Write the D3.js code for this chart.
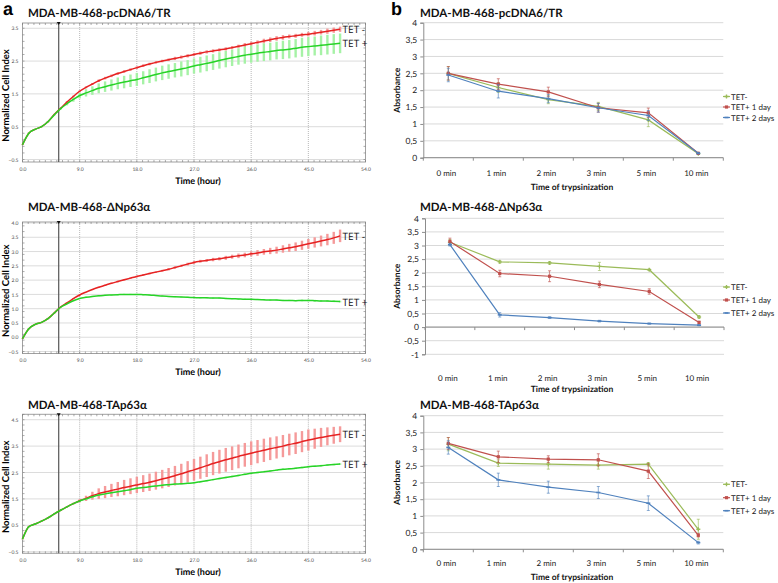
<!DOCTYPE html>
<html><head><meta charset="utf-8">
<script src="https://cdn.jsdelivr.net/npm/d3@7"></script>
<style>body{margin:0;background:#fff}svg{display:block}text{text-rendering:geometricPrecision}</style>
</head><body><svg id="c" width="778" height="583"></svg>
<script>
// ---------- DATA ----------
const hours=[0,1,2,3,4,5,6,7,8,9,10,11,12,13,14,15,16,17,18,19,20,21,22,23,24,25,26,27,28,29,30,31,32,33,34,35,36,37,38,39,40,41,42,43,44,45,46,47,48,49,50];
const xTickVals=[0,9,18,27,36,45,54];
const normalizationHour=5.7;

const a1TetMinus=[-0.05,0.30,0.42,0.50,0.65,0.87,1.06,1.25,1.42,1.58,1.70,1.80,1.90,1.98,2.05,2.12,2.18,2.24,2.30,2.36,2.41,2.46,2.50,2.54,2.58,2.62,2.66,2.70,2.74,2.78,2.81,2.84,2.87,2.91,2.95,2.99,3.03,3.07,3.11,3.15,3.19,3.22,3.25,3.27,3.30,3.32,3.35,3.38,3.41,3.44,3.47];
const a1TetMinusErr=[0.01,0.02,0.02,0.02,0.02,0.02,0.02,0.03,0.03,0.03,0.03,0.03,0.04,0.04,0.04,0.04,0.04,0.04,0.04,0.04,0.04,0.04,0.04,0.04,0.05,0.05,0.05,0.05,0.05,0.05,0.05,0.05,0.05,0.05,0.05,0.06,0.06,0.06,0.07,0.07,0.07,0.07,0.06,0.06,0.06,0.07,0.07,0.07,0.08,0.08,0.08];
const a1TetPlus=[-0.05,0.30,0.42,0.50,0.65,0.86,1.05,1.20,1.33,1.45,1.53,1.60,1.67,1.72,1.77,1.82,1.86,1.90,1.94,1.99,2.04,2.09,2.14,2.18,2.22,2.26,2.30,2.35,2.39,2.43,2.47,2.52,2.56,2.60,2.64,2.68,2.71,2.74,2.77,2.79,2.82,2.84,2.86,2.89,2.92,2.94,2.96,2.98,3.00,3.02,3.04];
const a1TetPlusErr=[0.01,0.02,0.02,0.02,0.02,0.02,0.03,0.05,0.07,0.09,0.11,0.13,0.15,0.16,0.17,0.18,0.19,0.19,0.20,0.20,0.21,0.21,0.22,0.22,0.22,0.23,0.23,0.23,0.24,0.24,0.24,0.25,0.25,0.25,0.25,0.26,0.26,0.26,0.27,0.27,0.27,0.28,0.28,0.28,0.29,0.29,0.29,0.30,0.30,0.30,0.30];

const a2TetMinus=[-0.05,0.30,0.45,0.52,0.65,0.85,1.06,1.20,1.35,1.48,1.58,1.67,1.75,1.82,1.89,1.95,2.01,2.07,2.13,2.18,2.23,2.28,2.33,2.38,2.44,2.50,2.56,2.62,2.66,2.69,2.72,2.75,2.78,2.82,2.85,2.88,2.92,2.95,2.99,3.02,3.05,3.09,3.13,3.17,3.22,3.27,3.32,3.37,3.42,3.48,3.55];
const a2TetMinusErr=[0.01,0.02,0.02,0.02,0.02,0.02,0.02,0.02,0.02,0.02,0.02,0.02,0.02,0.02,0.02,0.03,0.03,0.03,0.03,0.03,0.03,0.03,0.03,0.04,0.04,0.04,0.05,0.05,0.05,0.05,0.06,0.06,0.07,0.07,0.08,0.08,0.09,0.10,0.10,0.11,0.12,0.13,0.14,0.15,0.16,0.17,0.18,0.19,0.20,0.21,0.22];
const a2TetPlus=[-0.05,0.30,0.45,0.52,0.65,0.85,1.05,1.17,1.28,1.36,1.40,1.43,1.45,1.47,1.48,1.49,1.50,1.50,1.50,1.49,1.48,1.46,1.44,1.43,1.42,1.41,1.40,1.39,1.38,1.38,1.37,1.37,1.36,1.35,1.34,1.33,1.33,1.32,1.31,1.30,1.30,1.29,1.29,1.28,1.29,1.29,1.28,1.27,1.27,1.26,1.25];
const a2TetPlusErr=[0.01,0.02,0.02,0.02,0.02,0.02,0.02,0.02,0.02,0.02,0.02,0.02,0.02,0.02,0.02,0.02,0.02,0.02,0.02,0.02,0.02,0.02,0.02,0.02,0.02,0.02,0.02,0.02,0.02,0.02,0.02,0.02,0.02,0.02,0.02,0.02,0.02,0.02,0.02,0.02,0.02,0.02,0.02,0.02,0.03,0.03,0.03,0.03,0.03,0.03,0.03];

const a3TetMinus=[-0.02,0.45,0.55,0.66,0.78,0.93,1.07,1.20,1.32,1.43,1.52,1.62,1.70,1.76,1.82,1.87,1.93,1.98,2.03,2.08,2.13,2.19,2.25,2.31,2.38,2.45,2.53,2.60,2.68,2.76,2.84,2.91,2.98,3.04,3.11,3.17,3.23,3.29,3.34,3.40,3.45,3.50,3.56,3.61,3.67,3.73,3.78,3.83,3.87,3.91,3.95];
const a3TetMinusErr=[0.01,0.02,0.02,0.02,0.02,0.02,0.02,0.02,0.03,0.06,0.10,0.15,0.20,0.23,0.25,0.27,0.29,0.30,0.31,0.32,0.33,0.34,0.35,0.36,0.37,0.38,0.40,0.41,0.42,0.43,0.44,0.45,0.45,0.45,0.45,0.45,0.45,0.44,0.44,0.43,0.42,0.42,0.41,0.41,0.40,0.40,0.38,0.36,0.34,0.32,0.30];
const a3TetPlus=[-0.02,0.45,0.55,0.66,0.78,0.93,1.07,1.20,1.32,1.42,1.50,1.58,1.65,1.69,1.73,1.77,1.81,1.85,1.90,1.93,1.96,1.99,2.02,2.04,2.06,2.07,2.09,2.11,2.15,2.19,2.23,2.27,2.31,2.35,2.39,2.43,2.47,2.50,2.53,2.56,2.59,2.62,2.64,2.66,2.69,2.72,2.74,2.76,2.78,2.80,2.82];
const a3TetPlusErr=[0.01,0.02,0.02,0.02,0.02,0.02,0.02,0.02,0.03,0.03,0.03,0.03,0.03,0.03,0.03,0.03,0.03,0.03,0.03,0.03,0.03,0.03,0.03,0.03,0.03,0.03,0.03,0.03,0.03,0.03,0.03,0.03,0.03,0.03,0.03,0.03,0.03,0.03,0.03,0.03,0.03,0.03,0.03,0.03,0.03,0.03,0.03,0.03,0.03,0.03,0.03];

const trypsinCategories=["0 min","1 min","2 min","3 min","5 min","10 min"];
const legendNames=["TET-","TET+ 1 day","TET+ 2 days"];

const b1TetMinus=[2.50,2.08,1.72,1.52,1.12,0.12];
const b1TetMinusErr=[0.20,0.15,0.12,0.12,0.20,0.02];
const b1TetPlus1d=[2.50,2.18,1.95,1.48,1.33,0.13];
const b1TetPlus1dErr=[0.20,0.16,0.14,0.13,0.14,0.02];
const b1TetPlus2d=[2.45,1.97,1.75,1.48,1.25,0.13];
const b1TetPlus2dErr=[0.20,0.20,0.12,0.13,0.15,0.02];

const b2TetMinus=[3.12,2.40,2.36,2.23,2.11,0.37];
const b2TetMinusErr=[0.10,0.05,0.05,0.15,0.03,0.05];
const b2TetPlus1d=[3.15,1.97,1.87,1.57,1.31,0.17];
const b2TetPlus1dErr=[0.12,0.12,0.20,0.12,0.10,0.05];
const b2TetPlus2d=[3.03,0.45,0.35,0.22,0.13,0.07];
const b2TetPlus2dErr=[0.05,0.08,0.03,0.03,0.02,0.02];

const b3TetMinus=[3.15,2.58,2.55,2.52,2.55,0.60];
const b3TetMinusErr=[0.20,0.10,0.15,0.12,0.05,0.30];
const b3TetPlus1d=[3.17,2.77,2.70,2.68,2.34,0.42];
const b3TetPlus1dErr=[0.18,0.17,0.10,0.18,0.22,0.05];
const b3TetPlus2d=[3.05,2.08,1.86,1.70,1.38,0.20];
const b3TetPlus2dErr=[0.20,0.20,0.18,0.18,0.22,0.04];

// ---------- DRAW ----------
const svg=d3.select('#c');
const FONT='Lato, "Open Sans", Arial, sans-serif';
const RED='#e62222', GREEN='#27d327', RED_E='#f59a9a', GREEN_E='#a6f2a6';

svg.append('text').attr('x',3).attr('y',15).attr('font-family','Arial, Liberation Sans, sans-serif').attr('font-weight','bold').attr('font-size',18).text('a');
svg.append('text').attr('x',391).attr('y',15).attr('font-family','Arial, Liberation Sans, sans-serif').attr('font-weight','bold').attr('font-size',18).text('b');

function drawA(cfg){
  const g=svg.append('g');
  const x=d3.scaleLinear().domain([0,54]).range([22.5,365.5]);
  const y=d3.scaleLinear().domain(cfg.yDomain).range([cfg.y1,cfg.y0]);
  const [x0,x1]=x.range();
  g.append('text').attr('x',28).attr('y',cfg.titleY).attr('font-family',FONT).attr('font-weight','bold').attr('font-size',11.5).attr('fill','#111').text(cfg.title);
  g.append('rect').attr('x',x0).attr('y',cfg.y0).attr('width',x1-x0).attr('height',cfg.y1-cfg.y0).attr('fill','#fff').attr('stroke','#a0a0a0').attr('stroke-width',1);
  g.selectAll('.gx').data(xTickVals.slice(1,-1)).join('line').attr('x1',d=>x(d)).attr('x2',d=>x(d)).attr('y1',cfg.y0).attr('y2',cfg.y1).attr('stroke','#b8b8b8').attr('stroke-dasharray','1,1');
  g.selectAll('.gy').data(cfg.yTicks).join('line').attr('y1',d=>y(d)).attr('y2',d=>y(d)).attr('x1',x0).attr('x2',x1).attr('stroke','#b8b8b8').attr('stroke-dasharray','1,1');
  const mx=d3.range(0,54.01,0.9);
  g.selectAll('.mt').data(mx).join('line').attr('x1',d=>x(d)).attr('x2',d=>x(d)).attr('y1',cfg.y0).attr('y2',cfg.y0+2).attr('stroke','#777').attr('stroke-width',0.6);
  g.selectAll('.mb').data(mx).join('line').attr('x1',d=>x(d)).attr('x2',d=>x(d)).attr('y1',cfg.y1).attr('y2',cfg.y1-2).attr('stroke','#777').attr('stroke-width',0.6);
  const my=d3.range(cfg.yTicks[0],cfg.yDomain[1],0.2);
  g.selectAll('.ml').data(my).join('line').attr('y1',d=>y(d)).attr('y2',d=>y(d)).attr('x1',x0).attr('x2',x0+2).attr('stroke','#777').attr('stroke-width',0.6);
  g.selectAll('.mr').data(my).join('line').attr('y1',d=>y(d)).attr('y2',d=>y(d)).attr('x1',x1).attr('x2',x1-2).attr('stroke','#777').attr('stroke-width',0.6);
  const ax=g.append('g').attr('transform',`translate(0,${cfg.y1+2})`).call(d3.axisBottom(x).tickValues(xTickVals).tickFormat(d3.format('.1f')).tickSize(0));
  ax.select('.domain').remove();
  ax.selectAll('text').attr('font-size',5).attr('fill','#444').attr('font-family',FONT);
  const ay=g.append('g').attr('transform',`translate(${x0-1},0)`).call(d3.axisLeft(y).tickValues(cfg.yTicks).tickFormat(d3.format('.1f')).tickSize(0));
  ay.select('.domain').remove();
  ay.selectAll('text').attr('font-size',5).attr('fill','#444').attr('font-family',FONT);
  g.append('text').attr('x',198).attr('y',cfg.y1+18).attr('text-anchor','middle').attr('dominant-baseline','central').attr('font-family',FONT).attr('font-weight','bold').attr('font-size',9).text('Time (hour)');
  g.append('text').attr('transform',`translate(6,${(cfg.y0+cfg.y1)/2+3}) rotate(-90)`).attr('text-anchor','middle').attr('dominant-baseline','central').attr('font-family',FONT).attr('font-weight','bold').attr('font-size',9.5).text('Normalized Cell Index');
  const tx=x(normalizationHour);
  g.append('line').attr('x1',tx).attr('x2',tx).attr('y1',cfg.y0).attr('y2',cfg.y1).attr('stroke','#555').attr('stroke-width',1.2);
  g.append('path').attr('d',`M${tx-2},${cfg.y0-1}L${tx+2},${cfg.y0-1}L${tx},${cfg.y0+2}Z`).attr('fill','#111');
  const series=[{v:cfg.minus,e:cfg.minusErr,c:RED,ce:RED_E,lab:'TET -'},{v:cfg.plus,e:cfg.plusErr,c:GREEN,ce:GREEN_E,lab:'TET +'}];
  series.forEach(s=>{
    g.selectAll(null).data(hours).join('line').attr('x1',d=>x(d)).attr('x2',d=>x(d))
      .attr('y1',(d,i)=>y(s.v[i]-s.e[i])).attr('y2',(d,i)=>y(s.v[i]+s.e[i])).attr('stroke',s.ce).attr('stroke-width',2.4);
  });
  series.forEach(s=>{
    const line=d3.line().x((d,i)=>x(hours[i])).y(d=>y(d)).curve(d3.curveMonotoneX);
    g.append('path').attr('d',line(s.v)).attr('fill','none').attr('stroke',s.c).attr('stroke-width',1.5);
  });
  series.forEach(s=>{
    g.append('text').attr('x',x(hours[hours.length-1])+2.5).attr('y',y(s.v[s.v.length-1])).attr('dominant-baseline','central').attr('font-family','"Open Sans", Lato, sans-serif').attr('font-size',10).attr('fill','#111').text(s.lab);
  });
}

drawA({title:'MDA-MB-468-pcDNA6/TR',titleY:17,y0:23,y1:162,yDomain:[-0.576,3.66],yTicks:[-0.5,0.5,1.5,2.5,3.5],minus:a1TetMinus,minusErr:a1TetMinusErr,plus:a1TetPlus,plusErr:a1TetPlusErr});
drawA({title:'MDA-MB-468-ΔNp63α',titleY:211,y0:222,y1:353.5,yDomain:[-0.569,4.035],yTicks:[-0.5,0,0.5,1,1.5,2,2.5,3,3.5,4],minus:a2TetMinus,minusErr:a2TetMinusErr,plus:a2TetPlus,plusErr:a2TetPlusErr});
drawA({title:'MDA-MB-468-TAp63α',titleY:408.5,y0:414.3,y1:553.3,yDomain:[-0.561,4.705],yTicks:[-0.5,0.5,1.5,2.5,3.5,4.5],minus:a3TetMinus,minusErr:a3TetMinusErr,plus:a3TetPlus,plusErr:a3TetPlusErr});

const B_COLORS=['#9bbb59','#c0504d','#4f81bd'];
function marker(g,type,cx,cy,color){
  if(type===0){g.append('path').attr('d',d3.symbol(d3.symbolCross,9)()).attr('transform',`translate(${cx},${cy})`).attr('fill',color);}
  else if(type===1){g.append('rect').attr('x',cx-1.6).attr('y',cy-1.6).attr('width',3.2).attr('height',3.2).attr('fill',color);}
  else {g.append('rect').attr('x',cx-2).attr('y',cy-0.8).attr('width',4).attr('height',1.6).attr('fill',color);}
}
function drawB(cfg){
  const g=svg.append('g');
  const x=d3.scaleBand().domain(trypsinCategories).range([cfg.left,cfg.right]);
  const cx=d=>x(d)+x.bandwidth()/2;
  const y=d3.scaleLinear().domain(cfg.yDomain).range([cfg.bottom,cfg.top]);
  const ticks=d3.range(cfg.yDomain[0],cfg.yDomain[1]+0.001,0.5);
  g.append('text').attr('x',420).attr('y',cfg.titleY).attr('font-family',FONT).attr('font-weight','bold').attr('font-size',11.5).attr('fill','#111').text(cfg.title);
  g.selectAll(null).data(ticks).join('line').attr('x1',cfg.left).attr('x2',cfg.right).attr('y1',d=>y(d)).attr('y2',d=>y(d)).attr('stroke','#d9d9d9');
  const ay=g.append('g').attr('transform',`translate(${cfg.left},0)`).call(d3.axisLeft(y).tickValues(ticks).tickFormat(d=>String(d).replace('.',',')).tickSize(3).tickPadding(3));
  ay.select('.domain').attr('stroke','#8c8c8c');
  ay.selectAll('line').attr('stroke','#8c8c8c');
  ay.selectAll('text').attr('font-family',FONT).attr('font-size',8.5).attr('fill','#222');
  g.append('line').attr('x1',cfg.left).attr('x2',cfg.right).attr('y1',y(0)).attr('y2',y(0)).attr('stroke','#8c8c8c');
  const bounds=trypsinCategories.map(d=>x(d)).concat([cfg.right]);
  g.selectAll(null).data(bounds).join('line').attr('x1',d=>d).attr('x2',d=>d).attr('y1',y(0)).attr('y2',y(0)+3).attr('stroke','#8c8c8c');
  g.selectAll(null).data(trypsinCategories).join('text').attr('x',d=>cx(d)-2).attr('y',cfg.labelY).attr('text-anchor','middle').attr('dominant-baseline','central').attr('font-family',FONT).attr('font-size',8).attr('fill','#222').text(d=>d);
  g.append('text').attr('x',572).attr('y',cfg.xTitleY).attr('text-anchor','middle').attr('dominant-baseline','central').attr('font-family',FONT).attr('font-weight','bold').attr('font-size',8.5).attr('fill','#111').text('Time of trypsinization');
  g.append('text').attr('transform',`translate(397,${(cfg.top+cfg.bottom)/2}) rotate(-90)`).attr('text-anchor','middle').attr('dominant-baseline','central').attr('font-family',FONT).attr('font-weight','bold').attr('font-size',8.5).attr('fill','#111').text('Absorbance');
  cfg.series.forEach((s,k)=>{
    const col=B_COLORS[k];
    trypsinCategories.forEach((c,i)=>{
      const xx=cx(c);
      g.append('line').attr('x1',xx).attr('x2',xx).attr('y1',y(s.v[i]-s.e[i])).attr('y2',y(s.v[i]+s.e[i])).attr('stroke',col).attr('stroke-width',0.8).attr('opacity',0.8);
      [s.v[i]-s.e[i],s.v[i]+s.e[i]].forEach(v=>g.append('line').attr('x1',xx-1.5).attr('x2',xx+1.5).attr('y1',y(v)).attr('y2',y(v)).attr('stroke',col).attr('stroke-width',0.8).attr('opacity',0.8));
    });
    const line=d3.line().x((d,i)=>cx(trypsinCategories[i])).y(d=>y(d));
    g.append('path').attr('d',line(s.v)).attr('fill','none').attr('stroke',col).attr('stroke-width',1.2);
    trypsinCategories.forEach((c,i)=>marker(g,k,cx(c),y(s.v[i]),col));
  });
  legendNames.forEach((n,k)=>{
    const ly=cfg.legendY[k];
    g.append('line').attr('x1',723).attr('x2',730).attr('y1',ly).attr('y2',ly).attr('stroke',B_COLORS[k]).attr('stroke-width',1.2);
    marker(g,k,726.5,ly,B_COLORS[k]);
    g.append('text').attr('x',731).attr('y',ly).attr('dominant-baseline','central').attr('font-family',FONT).attr('font-size',8).attr('fill','#222').text(n);
  });
}

drawB({title:'MDA-MB-468-pcDNA6/TR',titleY:17,left:423.3,right:723.3,top:22.7,bottom:157.7,yDomain:[0,4],labelY:173.3,xTitleY:186.7,legendY:[96.5,107,117.5],
  series:[{v:b1TetMinus,e:b1TetMinusErr},{v:b1TetPlus1d,e:b1TetPlus1dErr},{v:b1TetPlus2d,e:b1TetPlus2dErr}]});
drawB({title:'MDA-MB-468-ΔNp63α',titleY:211,left:425,right:724,top:218.3,bottom:354.3,yDomain:[-1,4],labelY:378.3,xTitleY:388.5,legendY:[287,300,313],
  series:[{v:b2TetMinus,e:b2TetMinusErr},{v:b2TetPlus1d,e:b2TetPlus1dErr},{v:b2TetPlus2d,e:b2TetPlus2dErr}]});
drawB({title:'MDA-MB-468-TAp63α',titleY:408.5,left:423.3,right:723.3,top:415.7,bottom:549.3,yDomain:[0,4],labelY:563.3,xTitleY:576.7,legendY:[484.3,497.7,510.7],
  series:[{v:b3TetMinus,e:b3TetMinusErr},{v:b3TetPlus1d,e:b3TetPlus1dErr},{v:b3TetPlus2d,e:b3TetPlus2dErr}]});
</script></body></html>
